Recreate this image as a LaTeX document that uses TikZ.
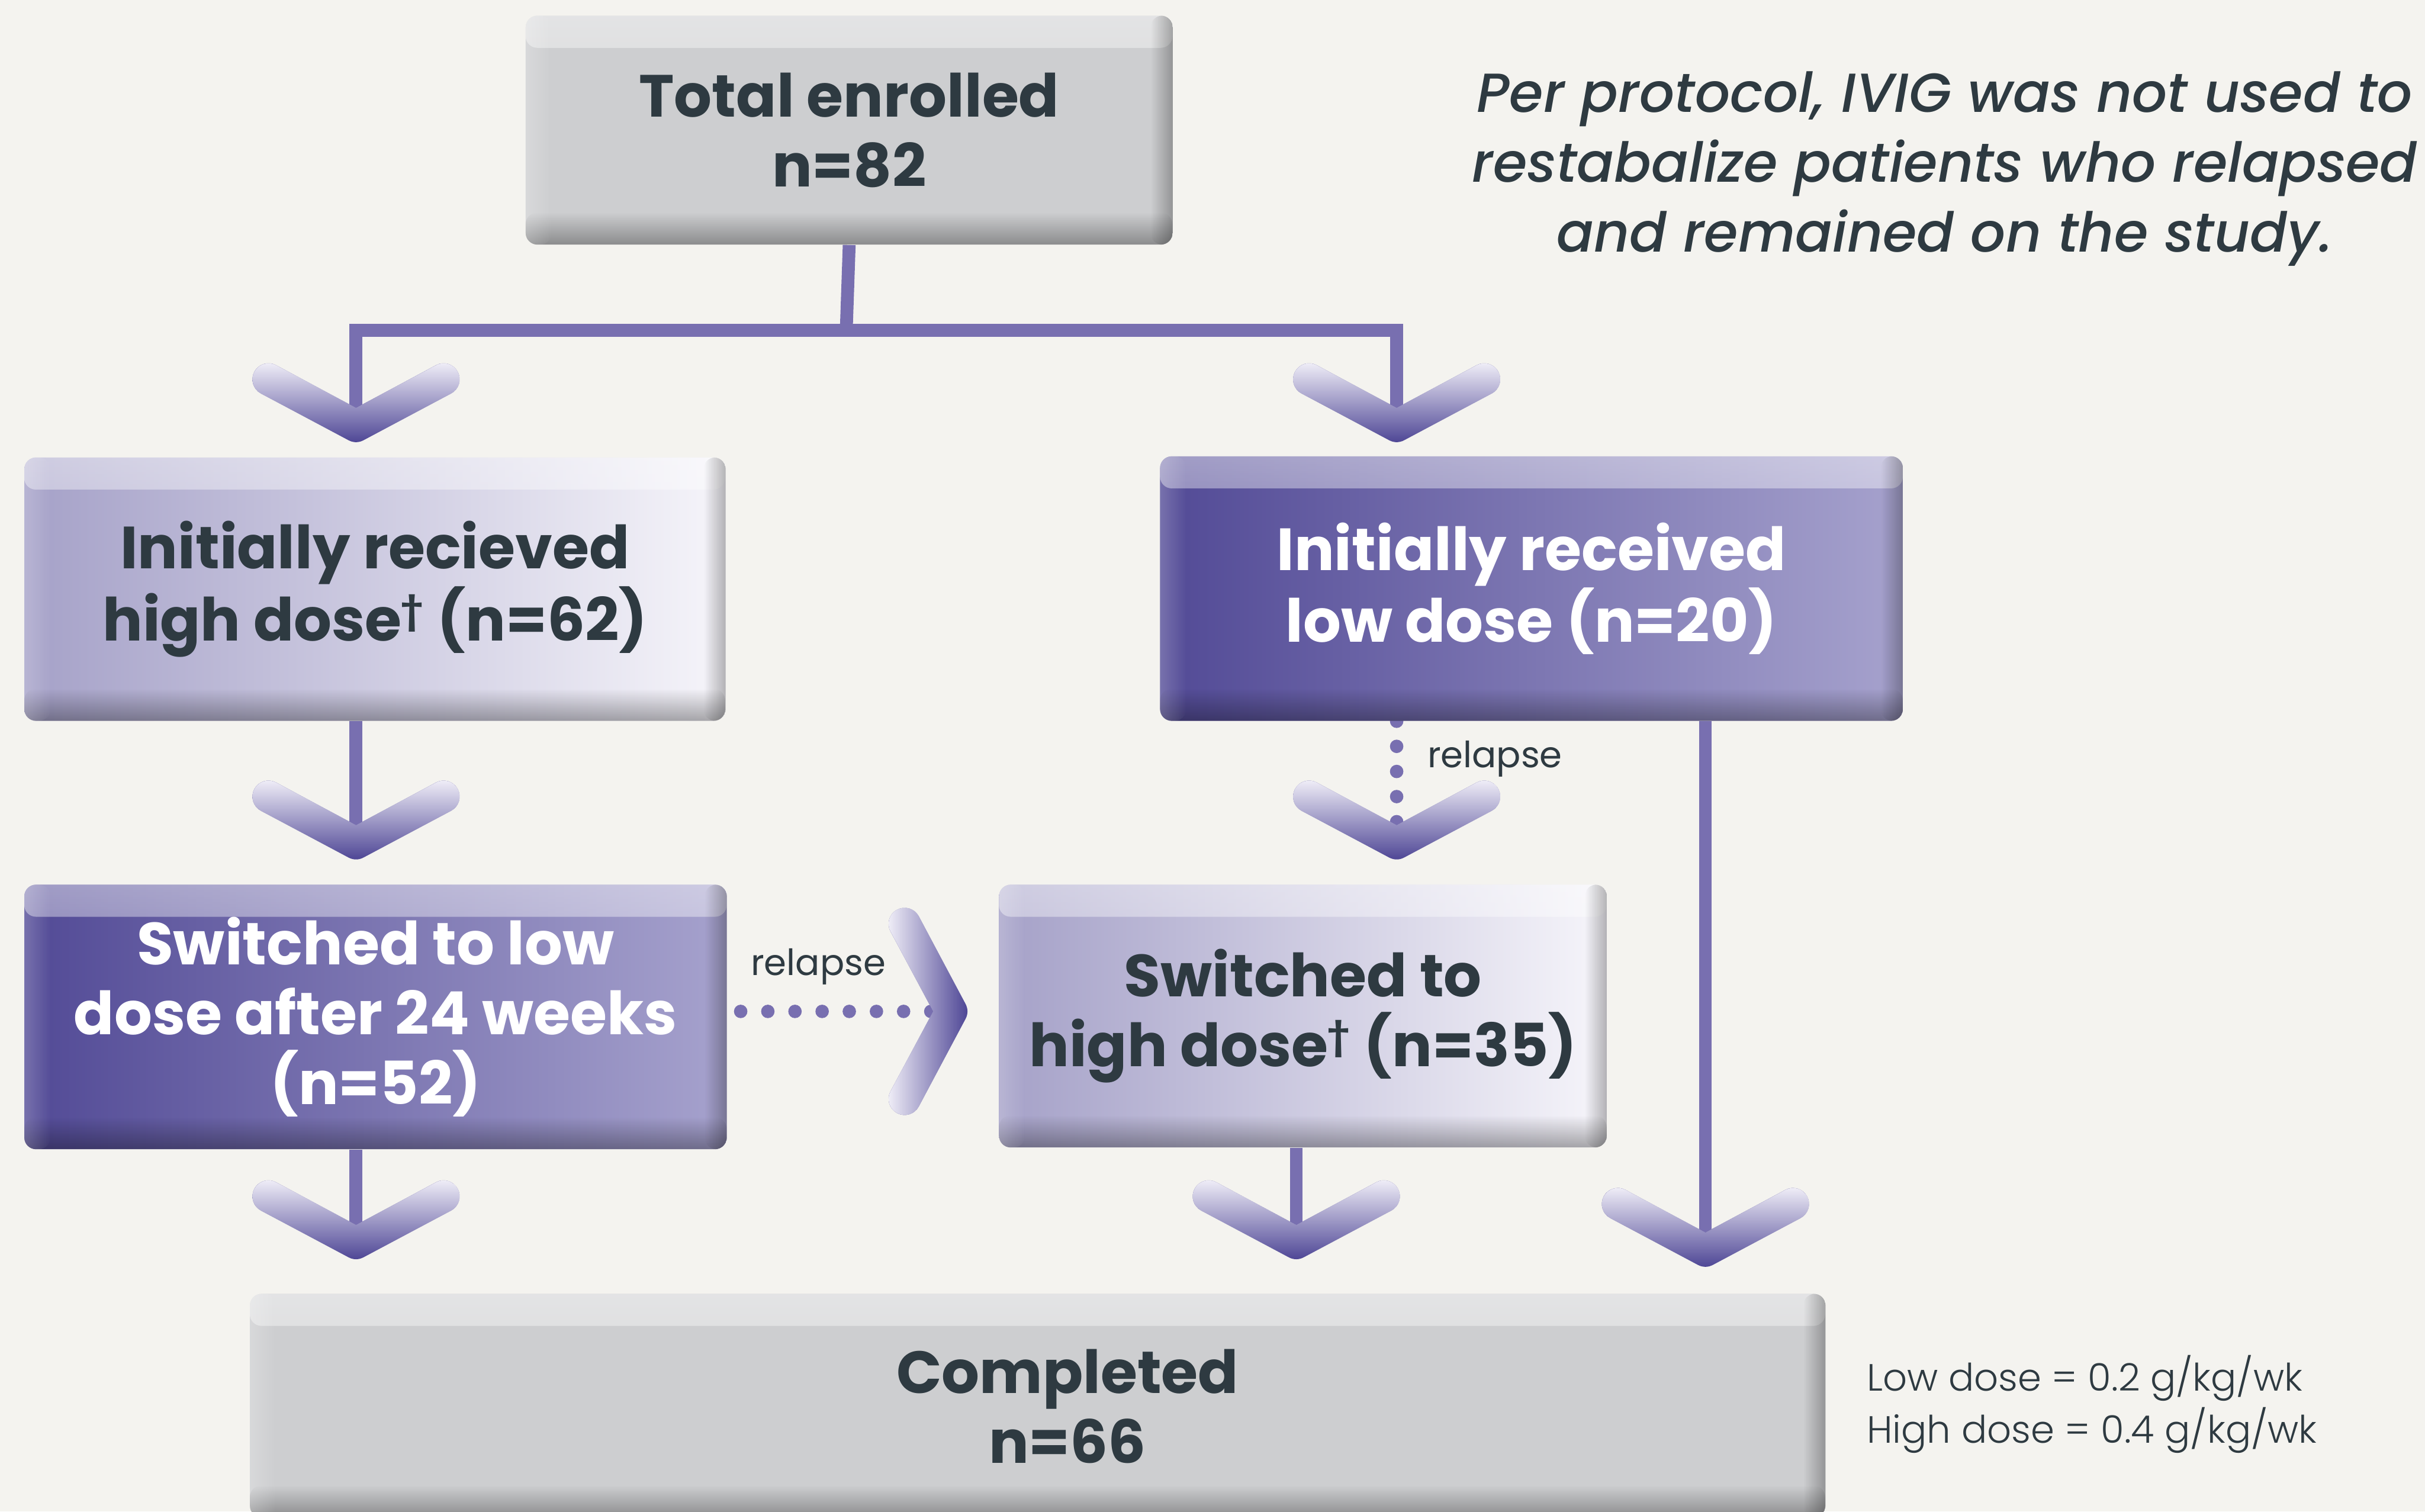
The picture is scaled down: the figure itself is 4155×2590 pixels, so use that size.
\documentclass[tikz,border=0pt]{standalone}
\usepackage{fontspec}
\setmainfont{Poppins}
\IfFontExistsTF{Poppins Light}
  {\newfontfamily\legendfont{Poppins Light}}
  {\newfontfamily\legendfont{Poppins}}
\IfFontExistsTF{Poppins Medium Italic}
  {\newfontfamily\notefont{Poppins Medium Italic}}
  {\newcommand\notefont{\itshape}}
\usetikzlibrary{fadings}

\definecolor{bg}{HTML}{F4F3EF}
\definecolor{ink}{HTML}{2E3A41}
\definecolor{linec}{HTML}{786FB0}
\definecolor{chevlight}{HTML}{EFEDF7}
\definecolor{chevdark}{HTML}{4F4796}
\definecolor{grayfill}{HTML}{CDCED0}
\definecolor{darkL}{HTML}{524A96}
\definecolor{darkR}{HTML}{A6A2CD}
\definecolor{lightL}{HTML}{A5A1C8}
\definecolor{lightR}{HTML}{F6F5FA}

\pgfdeclarelayer{bottom}
\pgfdeclarelayer{back}
\pgfsetlayers{bottom,back,main}

% soft bands for the raised look of the boxes
\tikzfading[name=bandtop, top color=transparent!0, middle color=transparent!25, bottom color=transparent!100]
\tikzfading[name=bandbottom, top color=transparent!100, middle color=transparent!25, bottom color=transparent!0]

\newcommand\dg{\textsuperscript{\kern-0.03em\scalebox{0.85}{†}}}

\tikzset{
  bevel/.style={path picture={
    \fill[white, opacity=.45, path fading=bandtop]
      (path picture bounding box.north west) rectangle ([yshift=-0.55cm]path picture bounding box.north east);
    \fill[black, opacity=.32, path fading=bandbottom]
      (path picture bounding box.south west) rectangle ([yshift=0.55cm]path picture bounding box.south east);
    \fill[black, opacity=.28, path fading=west]
      ([xshift=-0.38cm]path picture bounding box.south east) rectangle (path picture bounding box.north east);
    \fill[white, opacity=.22, path fading=east]
      (path picture bounding box.south west) rectangle ([xshift=0.45cm]path picture bounding box.north west);
  }},
  boxfont/.style={font=\bfseries\fontsize{29}{34}\selectfont},
  box/.style={rectangle, rounded corners=0.2cm, inner sep=0pt, align=center, boxfont, bevel},
  graybox/.style={box, fill=grayfill, text=ink},
  darkbox/.style={box, left color=darkL, right color=darkR, text=white},
  lightbox/.style={box, left color=lightL, right color=lightR, text=ink},
  link/.style={draw=linec, line width=0.22cm},
  dotline/.style={draw=linec, line width=0.23cm, line cap=round, dash pattern=on 0pt off #1},
  chev/.style={line width=0.55cm, line cap=round, line join=round},
  pics/chevdown/.style={code={
    \draw[chev, chevdark] (-150,-80) -- (0,0) -- (150,-80);
    \draw[chev, chevlight, path fading=south] (-150,-80) -- (0,0) -- (150,-80);
  }},
  pics/chevright/.style={code={
    \draw[chev, chevdark] (-80,-150) -- (0,0) -- (-80,150);
    \draw[chev, chevlight, path fading=east] (-80,-150) -- (0,0) -- (-80,150);
  }},
  label/.style={font=\fontsize{17.6}{22}\selectfont, text=ink, inner sep=0pt},
}

\begin{document}
\begin{tikzpicture}[x=0.01cm, y=-0.01cm]
\useasboundingbox (0,0) rectangle (4155,2590);
\begin{pgfonlayer}{bottom}
  \fill[bg] (0,0) rectangle (4155,2590);
\end{pgfonlayer}

% boxes
\node[graybox, minimum width=11.08cm, minimum height=3.92cm] (total) at (1455,223) {Total enrolled\\n=82};
\node[lightbox, minimum width=12.01cm, minimum height=4.51cm] (high) at (642.5,1009.5) {Initially recieved\\high dose\dg{} (n=62)};
\node[darkbox, minimum width=12.72cm, minimum height=4.53cm] (low) at (2624,1008.5) {Initially received\\low dose (n=20)};
\node[darkbox, minimum width=12.03cm, minimum height=4.53cm] (swlow) at (643.5,1742.5) {Switched to low\\dose after 24 weeks\\(n=52)};
\node[lightbox, minimum width=10.41cm, minimum height=4.50cm] (swhigh) at (2232.5,1741) {Switched to\\high dose\dg{} (n=35)};
\node[graybox, minimum width=26.98cm, minimum height=3.83cm] (done) at (1778,2408.5) {};
\node[boxfont, align=center, text=ink, inner sep=0pt] (donetext) at (1829,2410) {Completed\\n=66};

% chevron arrow heads (vertex points)
\coordinate (split) at (1450,566);
\coordinate (ca) at (610,730);
\coordinate (cb) at (2393,730);
\coordinate (cc) at (610,1445);
\coordinate (cd) at (2393,1445);
\coordinate (ce) at (610,2130);
\coordinate (cf) at (2221,2130);
\coordinate (cg) at (2922,2143);
\coordinate (ch) at (1630,1733);

% connectors
\begin{pgfonlayer}{back}
  \draw[link] (total.south) -- (split);
  \draw[link] (ca) |- (split) -| (cb);
  \draw[link] (cc |- high.south) -- (cc);
  \draw[link] (ce |- swlow.south) -- (ce);
  \draw[link] (cf |- swhigh.south) -- (cf);
  \draw[link] (cg |- low.south) -- (cg);
  \draw[dotline=0.43cm] (cd |- low.south) -- (cd);
  \draw[dotline=0.465cm] ([xshift=0.23cm]swlow.east |- ch) -- ([xshift=-0.3cm]ch);
\end{pgfonlayer}

\foreach \c in {ca,cb,cc,cd,ce,cf,cg} \pic at (\c) {chevdown};
\pic at (ch) {chevright};

% labels
\node[label] (rel1) at (1402,1656) {relapse};
\node[label, anchor=west] (rel2) at (2445,1300) {relapse};

\node[align=center, font=\notefont\fontsize{26.8}{34}\selectfont, text=ink, inner sep=0pt] (note) at (3332,289)
  {Per protocol, IVIG was not used to\\restabalize patients who relapsed\\and remained on the study.};

\node[anchor=west, align=left, font=\legendfont\fontsize{18.5}{25.6}\selectfont, text=ink, inner sep=0pt] (legend) at (3198,2406)
  {Low dose = 0.2 g/kg/wk\\High dose = 0.4 g/kg/wk};
\end{tikzpicture}
\end{document}
